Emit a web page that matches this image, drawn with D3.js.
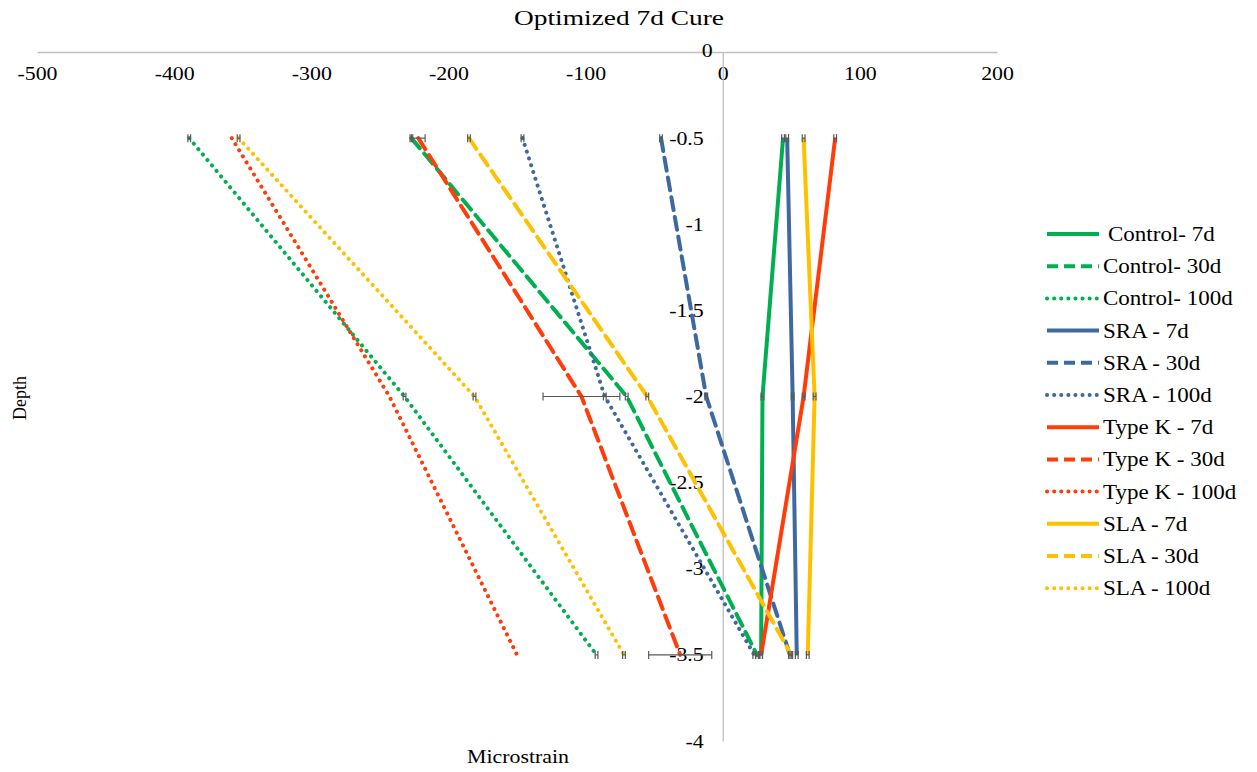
<!DOCTYPE html>
<html>
<head>
<meta charset="utf-8">
<script src="https://cdn.jsdelivr.net/npm/d3@7"></script>
<style>
  body { margin: 0; background: #fff; }
  text { font-family: "Liberation Serif", "Times New Roman", serif; fill: #000; }
</style>
</head>
<body>
<svg id="chart" width="1257" height="772"></svg>
<script>
// depths of the gauges
const depths = [-0.5, -2, -3.5];

const seriesNames = [
  "Control- 7d", "Control- 30d", "Control- 100d",
  "SRA - 7d", "SRA - 30d", "SRA - 100d",
  "Type K - 7d", "Type K - 30d", "Type K - 100d",
  "SLA - 7d", "SLA - 30d", "SLA - 100d"
];

// microstrain at each depth
const control7 = [44, 29, 28];
const control30 = [-227, -70, 25];
const control100 = [-389, -232, -92];
const sra7 = [47, 51, 54];
const sra30 = [-45, -12, 49];
const sra100 = [-146, -86, 23];
const typeK7 = [82, 59, 28];
const typeK30 = [-222, -103, -31];
const typeK100 = [-358, -243, -150];
const sla7 = [59, 67, 62];
const sla30 = [-185, -55, 50];
const sla100 = [-353, -181, -72];

// error bar half widths
const errSmall = [1, 1, 1];
const errTypeK30 = [5, 28, 23];
const errNone = [0, 0, 0];

const xTicks = [-500, -400, -300, -200, -100, 0, 100, 200];
const yTicks = [0, -0.5, -1, -1.5, -2, -2.5, -3, -3.5, -4];

const values = [control7, control30, control100, sra7, sra30, sra100,
                typeK7, typeK30, typeK100, sla7, sla30, sla100];
const errors = [errSmall, errSmall, errSmall, errSmall, errSmall, errSmall,
                errSmall, errTypeK30, errNone, errSmall, errSmall, errSmall];

const green = "#00b050", blue = "#3e69a0", red = "#ff3c0a", yellow = "#ffc000";
const colors = [green, green, green, blue, blue, blue, red, red, red, yellow, yellow, yellow];
const styles = ["solid", "dash", "dot", "solid", "dash", "dot",
                "solid", "dash", "dot", "solid", "dash", "dot"];

const dashArr = {solid: null, dash: "13,7", dot: "0.1,7"};
const capStyle = {solid: "butt", dash: "round", dot: "round"};

const series = seriesNames.map((name, i) => ({
  name,
  color: colors[i],
  style: styles[i],
  points: depths.map((d, j) => ({depth: d, value: values[i][j], err: errors[i][j]}))
}));

const svg = d3.select("#chart");

const x = d3.scaleLinear().domain([-500, 200]).range([37, 997]);
const y = d3.scaleLinear().domain([0, -4]).range([52, 741]);

// title
svg.append("text")
  .attr("class", "title")
  .attr("x", 619).attr("y", 25)
  .attr("text-anchor", "middle")
  .attr("textLength", 210)
  .attr("lengthAdjust", "spacingAndGlyphs")
  .style("font-size", "21px")
  .text("Optimized 7d Cure");

// horizontal axis at depth 0
const xAxis = svg.append("g")
  .attr("transform", `translate(0, ${y(0)})`)
  .call(d3.axisBottom(x).tickValues(xTicks).tickSize(0).tickPadding(15).tickFormat(d => String(d)));
xAxis.select(".domain").attr("stroke", "#bfbfbf").attr("stroke-width", 1.3);
xAxis.selectAll("text").attr("class", "stretch").style("font-size", "19px").style("font-family", "Liberation Serif");

// vertical axis at microstrain 0
const yAxis = svg.append("g")
  .attr("transform", `translate(${x(0)}, 0)`)
  .call(d3.axisLeft(y).tickValues(yTicks).tickSize(0).tickPadding(19).tickFormat(d => String(d)));
yAxis.select(".domain").attr("stroke", "#bfbfbf").attr("stroke-width", 1.3);
yAxis.selectAll("text").attr("class", "stretch").style("font-size", "19px").style("font-family", "Liberation Serif");
yAxis.selectAll(".tick").filter(d => d === 0).select("text").attr("dx", 9).attr("dy", "0.25em");

// axis titles
svg.append("text")
  .attr("transform", "translate(26, 398) rotate(-90)")
  .attr("text-anchor", "middle")
  .style("font-size", "18px")
  .text("Depth");

svg.append("text")
  .attr("class", "stretch")
  .attr("x", 518).attr("y", 763)
  .attr("text-anchor", "middle")
  .style("font-size", "19px")
  .text("Microstrain");

// lines
const line = d3.line().x(d => x(d.value)).y(d => y(d.depth));

svg.append("g").selectAll("path")
  .data(series)
  .join("path")
  .attr("d", d => line(d.points))
  .attr("fill", "none")
  .attr("stroke", d => d.color)
  .attr("stroke-width", 4)
  .attr("stroke-dasharray", d => dashArr[d.style])
  .attr("stroke-linecap", d => capStyle[d.style]);

// error bars
const errG = svg.append("g").attr("stroke", "#595959").attr("stroke-width", 1.2);
series.forEach(s => {
  s.points.filter(p => p.err > 0).forEach(p => {
    const x0 = x(p.value - p.err), x1 = x(p.value + p.err), yy = y(p.depth);
    errG.append("line").attr("x1", x0).attr("x2", x1).attr("y1", yy).attr("y2", yy);
    errG.append("line").attr("x1", x0).attr("x2", x0).attr("y1", yy - 4).attr("y2", yy + 4);
    errG.append("line").attr("x1", x1).attr("x2", x1).attr("y1", yy - 4).attr("y2", yy + 4);
  });
});

// legend
const legend = svg.append("g").attr("transform", "translate(1047, 234)");
const rows = legend.selectAll("g")
  .data(series)
  .join("g")
  .attr("transform", (d, i) => `translate(0, ${i * 32.2})`);

rows.append("line")
  .attr("x1", 0).attr("x2", 52).attr("y1", 0).attr("y2", 0)
  .attr("stroke", d => d.color)
  .attr("stroke-width", 4)
  .attr("stroke-dasharray", d => d.style === "dash" ? "11,6" : d.style === "dot" ? "0.1,7" : null)
  .attr("stroke-linecap", d => d.style === "dot" ? "round" : "butt");

rows.append("text")
  .attr("class", "stretch")
  .attr("x", (d, i) => i === 0 ? 61 : 56)
  .attr("y", 0)
  .attr("dy", "0.35em")
  .style("font-size", "20px")
  .text(d => d.name);

// the source picture's text is a bit wider than the font
svg.selectAll("text.stretch").each(function () {
  const w = this.getComputedTextLength();
  d3.select(this).attr("textLength", w * 1.15).attr("lengthAdjust", "spacingAndGlyphs");
});
</script>
</body>
</html>
